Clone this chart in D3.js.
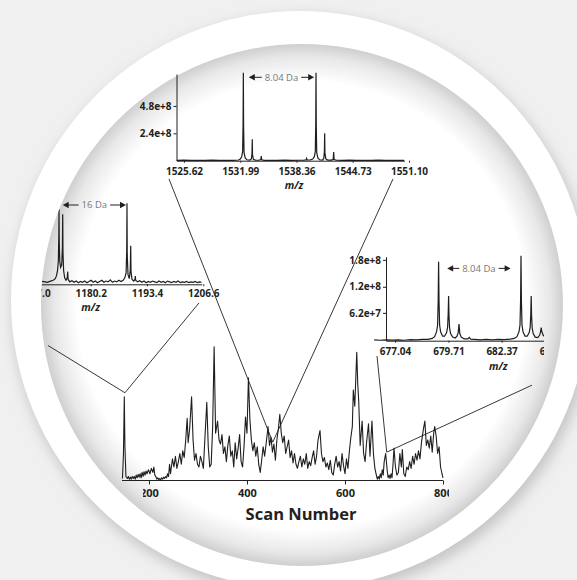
<!DOCTYPE html>
<html>
<head>
<meta charset="utf-8">
<script src="https://d3js.org/d3.v7.min.js"></script>
<style>
  body { margin: 0; background: #f0f0f0; }
  text { font-family: "Open Sans", "Noto Sans", sans-serif; fill: #231f20; }
  .ann { font-size: 9.5px; fill: #777; }
  .mz { font-size: 10.5px; font-weight: bold; font-style: italic; }
  .title { font-size: 16.5px; font-weight: bold; }
</style>
</head>
<body>
<div id="chart"></div>
<script>

// ---------- DATA -----------

// main chromatogram: [scan number, relative intensity]
var chromatogram = [
  [145,1.5],[146,2],[148,20],[149.7,62],[151,25],[153,3],[156,1.5],[158,3],[160,1],[162,2.5],[164,1],[166,3],[168,1.5],
  [170,3],[172,1],[174,4],[176,2],[178,4.5],[180,2.5],[182,5],[184,2],[186,6],[188,3],[190,6.5],[192,4],[194,7],[196,5],
  [199,8],[202,5],[205,9],[208,6],[210,10],[212,4],[214,3],[216,1],[218,2],[220,0.5],[222,1.5],[224,0.5],[226,2],[228,1],
  [230,2.5],[232,1.5],[234,3],[236,2],[238,5],[240,3],[242,12],[244,5],[245,8],[248,16],[251,10],[254,18],[257,9],[260,14],
  [263,20],[266,12],[269,22],[272,17],
  [275,30],[278,46],[280,28],[283,38],[287,62],[290,30],[293,15],[296,20],[299,12],[302,10],
  [305,18],[308,14],[311,9],[314,30],[318,58],[321,25],[324,10],[327,12],[330,40],[333,99],
  [336,35],[340,44],[343,30],[346,27],[349,34],[352,20],[355,25],[358,14],[361,26],[364,33],
  [367,18],[370,22],[373,10],[376,28],[379,16],[382,24],[385,34],[388,14],[391,10],[394,25],
  [397,47],[400,35],[403,76],[406,45],[409,30],[412,22],[415,28],[418,18],[421,25],[424,12],
  [427,6],[430,15],[433,25],[436,18],[440,30],[443,40],[446,26],[449,32],[452,21],[455,27],
  [458,15],[461,30],[464,38],[467,49],[470,35],[473,28],[476,33],[479,20],[482,25],[485,30],
  [488,17],[491,22],[494,13],[497,20],[500,12],[503,9],[506,14],[509,18],[512,10],[515,16],
  [518,12],[521,20],[524,9],[527,14],[530,11],[533,17],[536,22],[539,12],[542,18],[545,30],
  [549,37],[552,20],[555,14],[558,17],[561,10],[564,13],[567,8],[570,15],[573,6],[576,4],
  [579,12],[582,18],[585,10],[588,14],[591,7],[594,20],[597,11],[600,5],[603,16],[606,9],
  [609,22],[612,32],[615,40],[617,67],[620,55],[622,75],[624,95],[626,72],[628,59],[631,26],
  [635,44],[638,20],[641,14],[644,28],[648,42],[651,18],[655,44],[658,20],[661,9],[664,4],
  [666,1],[668,3],[670,1],[672,5],[674,2],[676,8],[678,4],[680,14],[683,20],[686,8],[688,2],[690,4],[692,1.5],[694,5],[696,2],[698,12],
  [700,24],[703,10],[706,4],[709,6],[712,20],[715,10],[717,23],[720,5],[723,3],[726,10],
  [729,8],[732,14],[735,9],[738,18],[741,12],[744,20],[747,15],[750,22],[753,16],[756,28],
  [760,38],[763,44],[766,26],[769,30],[772,24],[775,33],[778,21],[781,35],[783,40],[786,33],
  [789,20],[792,25],[795,10],[798,5],[800,2]
];
var scanTicks = [200, 400, 600, 800];

// top inset spectrum: [m/z, intensity x1e8]
var spectrumA = [
  [1524.8,0.03],[1525.6,0.05],[1526.4,0.02],[1527.2,0.04],[1528.0,0.03],[1528.8,0.05],[1529.6,0.02],
  [1530.4,0.04],[1531.2,0.03],[1531.8,0.06],[1532.0,0.15],[1532.15,0.35],[1532.26,0.8],[1532.31,3.2],
  [1532.34,7.7],[1532.37,3.0],[1532.42,0.7],[1532.55,0.25],[1532.75,0.08],[1533.05,0.06],[1533.25,0.15],
  [1533.32,0.6],[1533.35,1.87],[1533.38,0.5],[1533.48,0.12],[1533.7,0.05],[1534.1,0.04],[1534.32,0.1],
  [1534.37,0.41],[1534.42,0.08],[1534.7,0.03],[1535.4,0.04],[1536.2,0.02],[1537.0,0.05],[1537.8,0.03],
  [1538.6,0.04],[1539.2,0.05],[1539.46,0.08],[1539.51,0.2],[1539.56,0.07],[1539.9,0.06],[1540.2,0.15],
  [1540.38,0.35],[1540.49,0.8],[1540.54,3.2],[1540.57,7.7],[1540.6,3.0],[1540.65,0.7],[1540.78,0.25],
  [1540.98,0.08],[1541.3,0.06],[1541.45,0.2],[1541.52,0.8],[1541.55,2.4],[1541.58,0.7],[1541.68,0.15],
  [1541.9,0.05],[1542.35,0.05],[1542.52,0.12],[1542.57,0.76],[1542.62,0.1],[1542.9,0.04],[1543.6,0.03],
  [1544.4,0.05],[1545.2,0.02],[1546.0,0.04],[1546.8,0.03],[1547.6,0.05],[1548.4,0.02],[1549.2,0.04],
  [1550.0,0.03],[1550.55,0.03]
];
var ticksA = [1525.62, 1531.99, 1538.36, 1544.73, 1551.10];
var yTicksA = [2.4, 4.8];

// left inset spectrum: [m/z, relative intensity]
var spectrumB = [
  [1160,2],[1161,3],[1162,2],[1163,3.5],[1164,2],[1165,3],[1166,2.5],[1167,3],[1168,2],[1169,3.5],
  [1170,2.5],[1170.8,4],[1171.4,5],[1171.9,7],[1172.2,11],[1172.45,18],[1172.62,30],[1172.72,60],
  [1172.77,92.6],[1172.82,55],[1172.95,28],[1173.15,21],[1173.4,24],[1173.56,45],[1173.64,86.4],
  [1173.7,40],[1173.85,17],[1174.1,8],[1174.4,5],[1174.7,8],[1174.81,15.6],[1174.9,6],[1175.3,3],
  [1175.8,4.5],[1176.3,2.5],[1176.8,4],[1177.3,2],[1177.8,3.5],[1178.3,2.5],[1178.8,4],[1179.3,2],
  [1179.8,3.5],[1180.3,5],[1180.8,2.5],[1181.3,4],[1181.8,2],[1182.3,3.5],[1182.8,5],[1183.3,2.5],
  [1183.8,4],[1184.3,3],[1184.8,5.5],[1185.3,2.5],[1185.8,4],[1186.3,3],[1186.8,5],[1187.3,3.5],
  [1187.8,5],[1188.2,8],[1188.5,14],[1188.65,42],[1188.71,100],[1188.77,36],[1188.95,12],[1189.25,7],
  [1189.48,18],[1189.58,47.7],[1189.66,15],[1189.9,6],[1190.3,4],[1190.58,6],[1190.66,10.2],[1190.74,5],
  [1191.2,3],[1191.7,4.5],[1192.2,2.5],[1192.7,4],[1193.2,2],[1193.7,3.5],[1194.2,2.5],[1194.7,4],
  [1195.2,3],[1195.7,2],[1196.2,4],[1196.7,2.5],[1197.2,3.5],[1197.7,2],[1198.2,4],[1198.7,3],
  [1199.2,2],[1199.7,3.5],[1200.2,2.5],[1200.7,4],[1201.2,2],[1201.7,3],[1202.2,2.5],[1202.7,3.5],
  [1203.2,2],[1203.7,3],[1204.2,2.5],[1204.7,3.5],[1205.2,2],[1205.7,3],[1206.2,2.5]
];
var ticksB = [1167.0, 1180.2, 1193.4, 1206.6];

// right inset spectrum: [m/z, intensity x1e8]
var spectrumC = [
  [676.0,0.02],[676.3,0.01],[676.6,0.02],[676.9,0.015],[677.2,0.02],[677.5,0.01],[677.8,0.025],
  [678.1,0.02],[678.4,0.03],[678.7,0.03],[678.9,0.05],[679.02,0.09],[679.12,0.2],[679.17,0.35],
  [679.2,0.9],[679.22,1.76],[679.24,0.9],[679.27,0.35],[679.32,0.2],[679.42,0.1],[679.52,0.1],
  [679.62,0.18],[679.67,0.3],[679.7,0.6],[679.72,0.996],[679.74,0.55],[679.77,0.28],[679.82,0.16],
  [679.92,0.08],[680.05,0.06],[680.14,0.1],[680.2,0.18],[680.24,0.37],[680.28,0.16],[680.35,0.08],
  [680.5,0.04],[680.68,0.04],[680.75,0.075],[680.82,0.035],[681.0,0.03],[681.3,0.02],[681.6,0.03],
  [681.9,0.02],[682.2,0.03],[682.5,0.025],[682.8,0.035],[683.0,0.05],[683.14,0.09],[683.24,0.2],
  [683.29,0.35],[683.32,0.9],[683.34,1.89],[683.36,0.9],[683.39,0.35],[683.44,0.2],[683.54,0.1],
  [683.65,0.1],[683.75,0.18],[683.8,0.3],[683.83,0.6],[683.85,0.996],[683.87,0.55],[683.9,0.28],
  [683.95,0.16],[684.05,0.08],[684.18,0.07],[684.27,0.12],[684.32,0.2],[684.35,0.29],[684.38,0.2],
  [684.45,0.12],[684.6,0.06],[684.9,0.04],[685.3,0.03]
];
var ticksC = [677.04, 679.71, 682.37, 685.04];
var yTicksC = [0.62, 1.2, 1.8];
var yLabelsC = ["6.2e+7", "1.2e+8", "1.8e+8"];

// mass differences: [from m/z, to m/z, height, label]
var spacingA = [1532.96, 1540.36, 7.31, "8.04 Da"];
var spacingB = [1173.64, 1188.48, 97.9, "16 Da"];
var spacingC = [679.65, 682.82, 1.61, "8.04 Da"];

// zoom lines: scan point on the chromatogram -> point in an inset's own units
var zoomLines = [
  { scan: [151, 65], inset: "M", at: [-6, 100] },
  { scan: [151, 65], inset: "B", at: [1205.6, -23] },
  { scan: [452.6, 28.4], inset: "A", at: [1523.92, -1.6] },
  { scan: [452.6, 28.4], inset: "A", at: [1549.29, -1.6] },
  { scan: [685.2, 21], inset: "C", at: [676.14, -0.34] },
  { scan: [685.2, 21], inset: "C", at: [683.89, -0.99] }
];

// ---------- SETUP -----------

var width = 577, height = 580;

var svg = d3.select('#chart').append('svg')
  .attr('width', width)
  .attr('height', height);

var defs = svg.append('defs');

defs.append('filter').attr('id', 'soft')
  .attr('x', '-20%').attr('y', '-20%').attr('width', '140%').attr('height', '140%')
  .append('feGaussianBlur').attr('stdDeviation', 7);

var lens = defs.append('radialGradient').attr('id', 'lens')
  .attr('cx', '50%').attr('cy', '50%').attr('r', '50%');
lens.append('stop').attr('offset', '0').attr('stop-color', '#fff');
lens.append('stop').attr('offset', '0.86').attr('stop-color', '#fff');
lens.append('stop').attr('offset', '0.95').attr('stop-color', '#e8e8e8');
lens.append('stop').attr('offset', '1').attr('stop-color', '#cfcfcf');

defs.append('clipPath').attr('id', 'lensClip')
  .append('circle').attr('cx', 302).attr('cy', 305).attr('r', 261);
defs.append('clipPath').attr('id', 'clipC')
  .append('rect').attr('x', 300).attr('y', 200).attr('width', 244).attr('height', 200);
defs.append('clipPath').attr('id', 'clipScan')
  .append('rect').attr('x', 143).attr('y', 470).attr('width', 306).attr('height', 40);

// ---------- BACKGROUND -----------

svg.append('rect').attr('width', width).attr('height', height).attr('fill', '#f0f0f0');
svg.append('circle').attr('cx', 303).attr('cy', 306).attr('r', 290)
  .attr('fill', '#c4c4c4').attr('filter', 'url(#soft)');
svg.append('circle').attr('cx', 300).attr('cy', 300).attr('r', 289).attr('fill', '#fff');
svg.append('circle').attr('cx', 302).attr('cy', 305).attr('r', 261).attr('fill', 'url(#lens)');

function styleAxis(g, size) {
  g.attr('font-family', '"Open Sans", "Noto Sans", sans-serif')
   .attr('font-size', size)
   .attr('font-weight', 'bold');
  g.selectAll('text').attr('fill', '#231f20');
  g.selectAll('line').attr('stroke', '#231f20');
  g.select('.domain').attr('stroke', '#231f20');
}

function spacing(g, x, y, s) {
  var xa = x(s[0]), xb = x(s[1]), yy = y(s[2]), mid = (xa + xb) / 2;
  var t = g.append('text').attr('class', 'ann')
    .attr('x', mid).attr('y', yy).attr('dy', '0.35em')
    .attr('text-anchor', 'middle').text(s[3]);
  var w = t.node().getComputedTextLength();
  g.append('line').attr('x1', xa + 4).attr('x2', mid - w / 2 - 3)
    .attr('y1', yy).attr('y2', yy).attr('stroke', '#231f20');
  g.append('line').attr('x1', mid + w / 2 + 3).attr('x2', xb - 4)
    .attr('y1', yy).attr('y2', yy).attr('stroke', '#231f20');
  g.append('path').attr('fill', '#231f20')
    .attr('d', 'M' + xa + ',' + yy + 'l6,-3.2v6.4z');
  g.append('path').attr('fill', '#231f20')
    .attr('d', 'M' + xb + ',' + yy + 'l-6,-3.2v6.4z');
}

// ---------- MAIN CHROMATOGRAM -----------

var xMain = d3.scaleLinear().domain([145, 800]).range([122, 443]);
var yMain = d3.scaleLinear().domain([0, 100]).range([480.5, 345.5]);

svg.append('path')
  .datum(chromatogram)
  .attr('fill', 'none')
  .attr('stroke', '#1e1e1e')
  .attr('stroke-width', 1.1)
  .attr('stroke-linejoin', 'round')
  .attr('d', d3.line().x(function(d) { return xMain(d[0]); }).y(function(d) { return yMain(d[1]); }));

// baseline drawn on its own, tick labels clipped like the original crop
svg.append('line')
  .attr('x1', xMain(145)).attr('x2', xMain(800))
  .attr('y1', yMain(0)).attr('y2', yMain(0))
  .attr('stroke', '#231f20');

var mainAxis = svg.append('g').attr('clip-path', 'url(#clipScan)')
  .append('g')
  .attr('transform', 'translate(0,' + yMain(0) + ')')
  .call(d3.axisBottom(xMain).tickValues(scanTicks).tickSize(4).tickSizeOuter(0).tickPadding(4.5));
mainAxis.select('.domain').remove();
styleAxis(mainAxis, 11);

svg.append('text').attr('class', 'title')
  .attr('x', 301).attr('y', 520).attr('text-anchor', 'middle')
  .text('Scan Number');

// ---------- INSET A (top) -----------

var xA = d3.scaleLinear().domain([1524.77, 1550.58]).range([176.5, 404.4]);
var yA = d3.scaleLinear().domain([0, 7.6]).range([160.7, 74]);
var gA = svg.append('g');

gA.append('path').datum(spectrumA)
  .attr('fill', 'none').attr('stroke', '#1e1e1e').attr('stroke-width', 1.2)
  .attr('d', d3.line().x(function(d) { return xA(d[0]); }).y(function(d) { return yA(d[1]); }));

var axA = gA.append('g').attr('transform', 'translate(0,' + yA(0) + ')')
  .call(d3.axisBottom(xA).tickValues(ticksA).tickFormat(d3.format('.2f')).tickSize(2).tickSizeOuter(0).tickPadding(5));
styleAxis(axA, 10);
var ayA = gA.append('g').attr('transform', 'translate(' + xA(1524.77) + ',0)')
  .call(d3.axisLeft(yA).tickValues(yTicksA).tickFormat(function(d) { return d.toFixed(1) + 'e+8'; }).tickSize(3).tickSizeOuter(0).tickPadding(2));
styleAxis(ayA, 10);

gA.append('text').attr('class', 'mz').attr('x', 294).attr('y', 189).attr('text-anchor', 'middle').text('m/z');
spacing(gA, xA, yA, spacingA);

// ---------- INSET B (left) -----------

var xB = d3.scaleLinear().domain([1160, 1206.23]).range([4.55, 201.7]);
var yB = d3.scaleLinear().domain([0, 100]).range([284.3, 203.3]);
var gB = svg.append('g').attr('clip-path', 'url(#lensClip)');

gB.append('path').datum(spectrumB)
  .attr('fill', 'none').attr('stroke', '#1e1e1e').attr('stroke-width', 1.2)
  .attr('d', d3.line().x(function(d) { return xB(d[0]); }).y(function(d) { return yB(d[1]); }));

var axB = gB.append('g').attr('transform', 'translate(0,' + yB(0) + ')')
  .call(d3.axisBottom(xB).tickValues(ticksB).tickFormat(d3.format('.1f')).tickSize(2).tickSizeOuter(0).tickPadding(4));
styleAxis(axB, 10);

gB.append('text').attr('class', 'mz').attr('x', 90.7).attr('y', 311).attr('text-anchor', 'middle').text('m/z');
spacing(gB, xB, yB, spacingB);

// ---------- INSET C (right) -----------

var xC = d3.scaleLinear().domain([676.59, 685.5]).range([386, 564.2]);
var yC = d3.scaleLinear().domain([0, 1.87]).range([340.7, 256.7]);
var gC = svg.append('g').attr('clip-path', 'url(#clipC)');

gC.append('path').datum(spectrumC)
  .attr('fill', 'none').attr('stroke', '#1e1e1e').attr('stroke-width', 1.2)
  .attr('d', d3.line().x(function(d) { return xC(d[0]); }).y(function(d) { return yC(d[1]); }));

var axC = gC.append('g').attr('transform', 'translate(0,' + yC(0) + ')')
  .call(d3.axisBottom(xC).tickValues(ticksC).tickFormat(d3.format('.2f')).tickSize(2).tickSizeOuter(0).tickPadding(5));
styleAxis(axC, 10);
var ayC = gC.append('g').attr('transform', 'translate(' + xC(676.59) + ',0)')
  .call(d3.axisLeft(yC).tickValues(yTicksC).tickFormat(function(d, i) { return yLabelsC[i]; }).tickSize(3).tickSizeOuter(0).tickPadding(2));
styleAxis(ayC, 10);

gC.append('text').attr('class', 'mz').attr('x', 498.3).attr('y', 370).attr('text-anchor', 'middle').text('m/z');
spacing(gC, xC, yC, spacingC);

// ---------- ZOOM LINES -----------

var insetScale = { M: [xMain, yMain], A: [xA, yA], B: [xB, yB], C: [xC, yC] };

svg.append('g').attr('clip-path', 'url(#lensClip)')
  .selectAll('line')
  .data(zoomLines)
  .enter()
  .append('line')
  .attr('x1', function(d) { return xMain(d.scan[0]); })
  .attr('y1', function(d) { return yMain(d.scan[1]); })
  .attr('x2', function(d) { return insetScale[d.inset][0](d.at[0]); })
  .attr('y2', function(d) { return insetScale[d.inset][1](d.at[1]); })
  .attr('stroke', '#231f20')
  .attr('stroke-width', 0.9);

</script>
</body>
</html>
